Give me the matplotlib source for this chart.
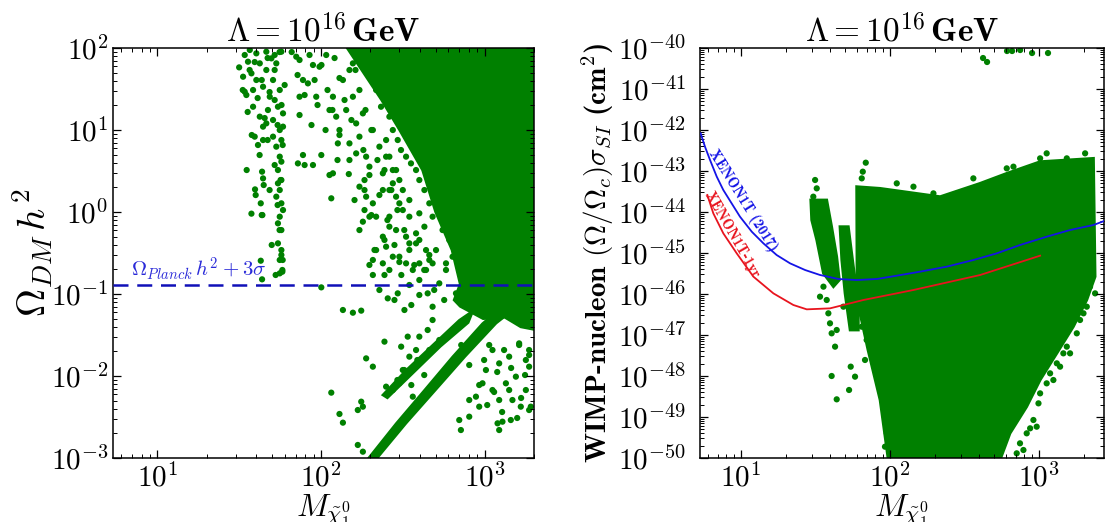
import numpy as np
import matplotlib
matplotlib.use("Agg")
import matplotlib.pyplot as plt
from matplotlib.ticker import LogLocator, NullFormatter

plt.rcParams['mathtext.fontset'] = 'cm'
plt.rcParams['font.family'] = 'serif'
plt.rcParams['font.serif'] = ['cmr10']
plt.rcParams['axes.formatter.use_mathtext'] = True

GREEN = '#008000'

# ---------------- left panel: relic density (log10 values) ----------------
# dense (solid) regions, outlines
left_main_logm = [2.143, 3.35, 3.35, 3.22, 3.12, 2.99, 2.85, 2.813, 2.85, 2.80, 2.70, 2.62, 2.48, 2.37]
left_main_logo = [2.05, 2.05, -1.45, -1.40, -1.28, -1.30, -1.15, -1.073, -0.878, -0.463, 0.0, 0.512, 1.0, 1.366]

lowband_logm = [2.285, 2.458, 2.631, 2.803, 2.986, 3.05, 3.12, 3.07, 2.880, 2.700, 2.520, 2.340]
lowband_logo = [-3.01, -2.577, -2.171, -1.764, -1.358, -1.25, -1.28, -1.358, -1.764, -2.171, -2.577, -3.01]

upband_logm = [2.375, 2.519, 2.681, 2.844, 2.93, 2.90, 2.73, 2.57, 2.405]
upband_logo = [-2.232, -1.927, -1.622, -1.317, -1.20, -1.35, -1.64, -1.95, -2.27]

# individual points
left_pts_logm = [
    1.499, 1.533, 1.543, 1.574, 1.604, 1.625, 1.645, 1.665, 1.686, 1.706, 1.726, 1.747,
    1.564, 1.604, 1.665, 1.716, 1.757, 1.584, 1.625, 1.645, 1.675, 1.706, 1.736, 1.767,
    1.747, 1.594, 1.614, 1.645, 1.706, 1.726, 1.757, 1.747, 1.736, 1.757, 1.747, 1.726,
    1.757, 1.747, 1.757, 1.736, 1.747, 1.763, 1.639, 1.645, 1.649, 1.596, 1.600, 1.631,
    1.641, 1.574, 1.523, 1.553, 1.696, 1.584, 1.716, 1.665, 1.767, 1.757, 1.736, 1.767,
    1.736, 1.757, 1.631, 1.639, 1.747, 1.763, 1.757,
    1.533, 1.594, 1.673, 1.746, 1.563, 1.637, 1.716, 1.777, 1.521, 1.612, 1.685, 1.758,
    1.551, 1.655, 1.734, 1.576, 1.673, 1.765, 1.624, 1.716, 1.545, 1.752, 1.685, 1.734,
    1.637, 1.746, 1.698, 1.765, 1.722,
    1.858, 1.889, 1.950, 2.001, 2.062, 2.072, 2.169, 2.102, 2.173, 2.214, 1.848, 1.889,
    1.868, 1.919, 1.950, 1.970, 1.990, 2.031, 2.051, 2.072, 2.092, 2.112, 2.133, 2.153,
    2.173, 2.194, 2.214, 2.234, 2.275, 2.295, 2.265, 2.275, 2.316, 2.295, 2.255, 2.265,
    2.234, 2.194, 2.255, 2.316, 2.356, 2.397, 2.438, 2.478, 2.377, 2.417, 2.458, 2.499,
    2.539, 2.417, 2.458, 2.519, 2.580, 2.641, 2.600, 2.681, 2.478, 2.397, 2.336, 2.377,
    2.316,
    1.899, 2.051, 2.100, 2.204, 2.265, 2.307, 2.234, 2.326, 2.387, 2.417, 2.356, 2.448,
    2.478, 2.539,
    2.336, 2.366, 2.417, 2.438, 2.468, 2.397, 2.488, 2.519, 2.549, 2.417, 2.458, 2.580,
    2.600, 2.631, 2.681, 2.722, 2.661, 2.763, 2.803, 2.844, 2.742, 2.783, 2.885, 2.925,
    2.824, 2.864, 2.966, 2.681, 2.631, 2.580, 2.539, 2.702, 2.763, 2.600, 2.539, 2.499,
    2.438, 2.377, 2.478, 2.803, 2.885, 2.946, 2.986, 2.925, 3.027, 2.377, 2.417, 2.336,
    2.519, 2.641,
    2.001, 2.133, 2.194, 2.245, 2.295, 2.316, 2.387, 2.407, 2.468, 2.509, 2.438, 2.560,
    2.600, 2.651, 2.681, 2.722, 2.763, 2.824, 2.661, 2.803, 2.885, 2.925, 2.529, 2.489,
    2.062, 2.112, 2.133, 2.224, 2.255, 2.245, 2.224, 2.255, 2.275, 2.316, 2.387, 2.397,
    2.438, 2.478, 2.499, 2.539, 2.580, 2.600, 2.651, 2.681, 2.560,
    3.047, 3.088, 3.149, 3.210, 3.251, 3.190, 3.129, 3.088, 3.047, 2.986, 2.946, 2.966,
    2.905, 2.854, 3.169, 3.007, 3.271, 3.108, 3.078, 3.271, 3.251, 3.281, 3.220, 3.159,
    1.820, 1.868, 1.929, 2.002, 2.082, 1.856, 1.960, 2.039, 2.112, 1.899, 1.978, 2.069,
    2.143, 1.868, 1.941, 2.027, 2.112, 2.185, 2.234, 2.210, 2.271, 2.307, 2.258, 2.173,
    2.344, 2.295, 2.387, 2.429, 2.356, 2.466, 2.405, 2.508, 2.448, 2.539, 2.600, 2.569,
    2.630, 2.661, 2.490, 2.691, 2.600, 2.752, 2.551,
    2.783, 2.856, 2.935, 3.027, 3.118, 3.210, 3.271, 2.813, 2.905, 2.996, 3.076, 3.161,
    3.246, 2.966, 3.057, 3.149, 3.222, 3.015, 3.106, 3.198, 3.271, 3.088, 2.905, 2.844,
    2.508, 2.588, 2.661, 2.722, 2.551, 2.466, 2.630,
]
left_pts_logo = [
    1.764, 1.467, 1.427, 1.691, 1.610, 1.813, 1.528, 1.732, 1.406, 1.610, 1.813, 1.488,
    1.976, 1.935, 1.955, 1.915, 1.955, 1.284, 1.163, 1.041, 1.244, 1.122, 1.284, 1.203,
    1.000, 0.919, 0.817, 0.878, 0.919, 0.797, 0.878, 0.675, 0.512, 0.390, 0.268, 0.187,
    0.106, -0.057, -0.220, -0.382, -0.585, -0.707, 0.492, 0.410, 0.329, 0.276, 0.207, 0.106,
    -0.037, -0.020, 1.650, 1.833, 1.874, 1.488, 1.366, 1.081, 1.041, 0.614, 0.350, 0.024,
    -0.138, -0.464, -0.594, -0.821, -0.748, -0.728, -0.524,
    1.915, 1.829, 1.878, 1.951, 1.732, 1.610, 1.732, 1.549, 1.488, 1.390, 1.463, 1.305,
    1.220, 1.146, 1.061, 0.939, 0.878, 0.817, 0.695, 0.573, 0.512, 0.390, 0.268, 0.085,
    -0.037, -0.220, -0.402, -0.585, -0.768,
    0.593, 0.695, 0.573, 0.695, 0.167, 0.472, 0.463, 0.837, 0.837, 0.715, 1.894, 1.610,
    1.406, 1.569, 1.793, 1.406, 1.772, 1.915, 1.244, 1.406, 1.163, 1.000, 1.610, 1.244,
    1.732, 1.406, 1.081, 0.919, 0.675, 0.553, 0.390, 0.187, 0.106, -0.057, -0.118, 0.024,
    0.309, 1.813, 1.203, 1.000, 0.797, 0.675, 0.512, 0.390, 0.472, 0.268, 0.187, 0.024,
    -0.057, -0.057, -0.220, -0.301, -0.382, -0.464, -0.626, -0.626, -0.545, -0.423, -0.464, -0.626,
    -0.585,
    0.573, 0.451, 0.634, 0.146, 0.268, -0.037, -0.220, -0.463, -0.341, -0.707, -0.951, -1.073,
    -0.610, -0.890,
    1.488, 1.284, 1.163, 1.000, 0.878, 0.878, 0.756, 0.675, 0.593, 0.675, 0.512, 0.512,
    0.390, 0.268, 0.309, 0.187, 0.106, 0.024, -0.057, -0.179, -0.220, -0.341, -0.382, -0.464,
    -0.545, -0.626, -0.707, -0.057, -0.179, -0.260, -0.382, -0.464, -0.626, -0.016, 0.146, 0.268,
    0.350, 0.268, 0.106, 0.431, 0.309, 0.024, -0.057, 0.187, -0.423, -0.301, -0.179, -0.057,
    -0.626, -0.707,
    -0.919, -1.195, -1.228, -1.203, -0.646, -0.768, -0.768, -1.053, -0.992, -1.195, -0.545, -0.707,
    -0.829, -0.992, -1.155, -0.870, -0.707, -0.992, -0.585, -0.545, -0.707, -1.073, -1.520, -1.642,
    -2.203, -2.463, -2.569, -2.415, -2.374, -2.313, -2.841, -2.923, -1.785, -1.886, -1.581, -2.130,
    -2.171, -2.089, -1.927, -1.764, -1.683, -1.520, -1.439, -1.317, -2.252,
    -1.683, -1.846, -1.764, -1.602, -1.805, -2.008, -2.089, -2.293, -2.171, -2.089, -2.252, -2.374,
    -2.496, -2.659, -2.293, -1.927, -1.683, -2.557, -2.577, -1.886, -2.171, -2.374, -2.374, -2.537,
    1.951, 1.854, 1.915, 1.793, 1.878, 1.671, 1.610, 1.488, 1.634, 1.427, 1.305, 1.244,
    1.366, 1.183, 1.061, 1.000, 0.939, 1.122, 1.488, 1.732, 1.244, 1.000, 0.756, 0.634,
    0.634, 0.451, 0.512, 0.268, 0.207, 0.024, -0.098, -0.220, -0.402, -0.463, -0.341, -0.646,
    -0.707, -0.524, -0.768, -0.951, -1.012, -1.073, -1.134,
    -1.500, -1.622, -1.561, -1.622, -1.683, -1.622, -1.744, -1.805, -1.866, -1.805, -1.951, -1.902,
    -1.988, -2.110, -2.195, -2.171, -2.268, -2.354, -2.439, -2.512, -2.415, -2.659, -2.293, -2.537,
    -1.927, -1.805, -1.683, -1.561, -2.110, -2.049, -1.988,
]

planck_bound = 0.128  # Omega h^2 (Planck + 3 sigma)

# ---------------- right panel: direct detection (log10 values) ----------------
right_main_logm = [1.778, 1.935, 2.338, 2.606, 2.785, 3.009, 3.367, 3.378, 3.322, 3.232, 3.121,
                   3.009, 2.919, 2.807, 2.740, 1.99, 1.935, 1.854, 1.781]
right_main_logs = [-43.382, -43.423, -43.626, -43.301, -43.057, -42.772, -42.691, -45.577, -46.146,
                   -46.797, -47.447, -48.098, -48.748, -49.398, -50.05, -50.05, -48.585, -47.366,
                   -46.146]

strip1_logm = [1.470, 1.577, 1.610, 1.644, 1.662, 1.622, 1.555, 1.510, 1.476]
strip1_logs = [-43.707, -43.707, -44.358, -45.089, -45.658, -45.821, -45.496, -44.683, -44.195]

strip2_logm = [1.666, 1.722, 1.756, 1.789, 1.789, 1.734, 1.700, 1.678]
strip2_logs = [-44.358, -44.358, -45.333, -46.146, -46.878, -46.878, -45.984, -45.171]

right_pts_logm = [
    1.499, 1.510, 1.487, 1.532, 1.577, 1.599, 1.644, 1.610, 1.633, 1.689, 1.555, 1.588,
    1.610, 1.644, 1.727, 1.738, 1.767, 1.801, 1.845, 1.868, 1.890, 1.935, 1.957, 1.980,
    1.834, 1.845, 1.935, 1.957, 1.991, 1.980, 1.968, 2.024, 1.912, 1.812,
    3.344, 3.378, 3.322, 3.277, 3.300, 3.255, 3.188, 3.210, 3.165, 3.143, 3.121, 3.076,
    3.053, 3.098, 3.009, 2.998, 2.964, 2.986, 2.942, 2.919, 2.874, 2.852, 2.897,
    1.839, 1.819, 1.812, 3.053, 3.311, 3.009, 3.188, 2.785, 2.830, 2.159, 2.293, 2.047,
    2.561, 2.626, 2.653, 2.787, 2.821, 2.955, 3.062, 2.875,
]
right_pts_logs = [
    -43.219, -43.423, -43.626, -46.065, -46.146, -46.715, -46.878, -46.959, -47.284, -46.309, -45.821, -46.471,
    -48.000, -48.569, -48.341, -47.772, -48.016, -46.471, -46.390, -46.959, -47.122, -47.122, -47.203, -47.935,
    -47.609, -47.122, -47.609, -48.423, -48.992, -49.398, -49.724, -47.447, -46.553, -46.797,
    -45.821, -45.984, -46.309, -46.634, -46.471, -46.959, -47.284, -47.447, -47.447, -47.772, -47.691, -47.935,
    -48.179, -48.098, -48.423, -48.667, -49.073, -49.236, -49.276, -49.398, -49.642, -49.886, -49.805,
    -42.797, -43.016, -43.179, -42.569, -42.569, -42.691, -42.691, -42.935, -42.894, -43.382, -43.545, -43.301,
    -43.179, -40.244, -40.341, -40.073, -40.073, -40.122, -40.122, -40.049,
]

# XENON1T (2017) limit and XENON1T 1 t*yr projection
xe2017_logm = [0.731, 0.760, 0.794, 0.839, 0.883, 0.939, 0.995, 1.074, 1.152, 1.241, 1.331, 1.432,
               1.532, 1.655, 1.778, 1.913, 2.047, 2.203, 2.382, 2.561, 2.718, 2.874, 3.053, 3.210,
               3.367, 3.445]
xe2017_logs = [-42.081, -42.406, -42.732, -43.138, -43.463, -43.789, -44.114, -44.480, -44.764, -45.049,
               -45.252, -45.415, -45.536, -45.634, -45.659, -45.634, -45.553, -45.455, -45.333, -45.171,
               -45.008, -44.805, -44.602, -44.439, -44.317, -44.211]
xe1yr_logm = [0.776, 0.816, 0.883, 0.973, 1.085, 1.219, 1.353, 1.443, 1.599, 1.823, 2.159, 2.606, 3.009]
xe1yr_logs = [-43.585, -44.033, -44.520, -45.008, -45.577, -45.984, -46.268, -46.374, -46.350, -46.146,
              -45.902, -45.537, -45.065]


def p(a):
    return np.power(10.0, np.asarray(a, dtype=float))


def style_axes(ax, ypad):
    ax.set_xscale('log')
    ax.set_yscale('log')
    ax.xaxis.set_major_locator(LogLocator(base=10, numticks=20))
    ax.xaxis.set_minor_locator(LogLocator(base=10, subs=np.arange(2, 10), numticks=100))
    ax.yaxis.set_major_locator(LogLocator(base=10, numticks=20))
    ax.yaxis.set_minor_locator(LogLocator(base=10, subs=np.arange(2, 10), numticks=100))
    ax.xaxis.set_minor_formatter(NullFormatter())
    ax.yaxis.set_minor_formatter(NullFormatter())
    ax.tick_params(which='both', direction='in', top=True, right=True, labelsize=21)
    ax.tick_params(which='major', length=6, width=0.9)
    ax.tick_params(which='minor', length=3, width=0.7)
    ax.tick_params(axis='y', pad=ypad)
    ax.tick_params(axis='x', pad=4)
    for s in ax.spines.values():
        s.set_linewidth(1.1)


fig = plt.figure(figsize=(11.05, 5.22), dpi=100)
ax1 = fig.add_axes([0.1023, 0.1226, 0.3810, 0.7854])
ax2 = fig.add_axes([0.6335, 0.1226, 0.3656, 0.7854])

# left panel
ax1.fill(p(left_main_logm), p(left_main_logo), color=GREEN, lw=2)
ax1.fill(p(lowband_logm), p(lowband_logo), color=GREEN, lw=1.5)
ax1.fill(p(upband_logm), p(upband_logo), color=GREEN, lw=1.5)
ax1.scatter(p(left_pts_logm), p(left_pts_logo), s=20, c=GREEN, edgecolors='none')
ax1.axhline(planck_bound, color='#1010b8', lw=1.8, ls=(0, (6, 3.5)), zorder=5)
ax1.text(6.9, 0.163, r'$\Omega_{Planck}\,h^2+3\sigma$', color='#2a2ad8', fontsize=15)
style_axes(ax1, 3.5)
ax1.set_xlim(5.35, 2000)
ax1.set_ylim(1e-3, 1e2)
ax1.set_title(r'$\Lambda = 10^{16}\,\mathbf{GeV}$', fontsize=24, pad=4)
ax1.set_xlabel(r'$M_{\tilde{\chi}_1^0}$', fontsize=23, labelpad=0)
ax1.set_ylabel(r'$\Omega_{DM}\,h^2$', fontsize=28, labelpad=-3)

# right panel
ax2.fill(p(right_main_logm), p(right_main_logs), color=GREEN, lw=2)
ax2.fill(p(strip1_logm), p(strip1_logs), color=GREEN, lw=2)
ax2.fill(p(strip2_logm), p(strip2_logs), color=GREEN, lw=2)
ax2.scatter(p(right_pts_logm), p(right_pts_logs), s=20, c=GREEN, edgecolors='none')
ax2.plot(p(xe2017_logm), p(xe2017_logs), color='#1414e6', lw=1.3, zorder=5)
ax2.plot(p(xe1yr_logm), p(xe1yr_logs), color='#e8141e', lw=1.3, zorder=5)
ax2.text(p(1.016), p(-43.724), 'XENON1T (2017)', color='#1414e6', fontsize=10.5,
         rotation=-58, ha='center', va='center', family='cmb10', rotation_mode='anchor')
ax2.text(p(0.945), p(-44.561), 'XENON1T-1yr', color='#e8141e', fontsize=10.5,
         rotation=-60, ha='center', va='center', family='cmb10', rotation_mode='anchor')
style_axes(ax2, 10)
ax2.set_xlim(5.33, 2740)
ax2.set_ylim(1e-50, 1e-40)
ax2.set_title(r'$\Lambda = 10^{16}\,\mathbf{GeV}$', fontsize=24, pad=4)
ax2.set_xlabel(r'$M_{\tilde{\chi}_1^0}$', fontsize=23, labelpad=0)
ax2.set_ylabel(r'WIMP-nucleon $(\Omega/\Omega_c)\sigma_{SI}$ (cm$^2$)', fontsize=21,
               family='cmb10', labelpad=1)

fig.savefig('out.png', dpi=100)
